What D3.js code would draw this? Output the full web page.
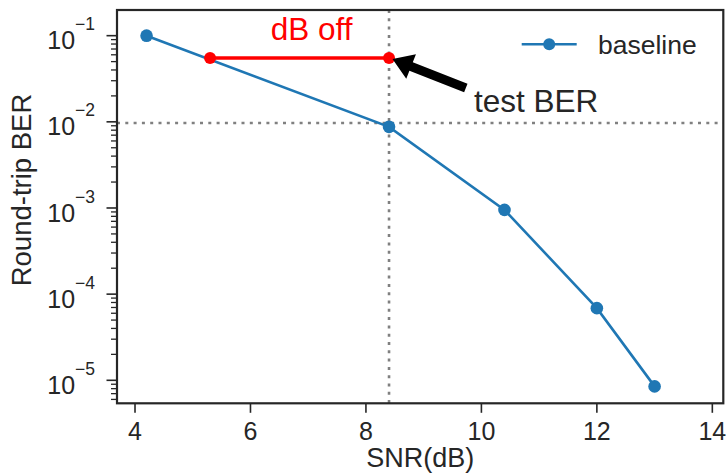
<!DOCTYPE html>
<html><head><meta charset="utf-8">
<script src="https://cdn.jsdelivr.net/npm/d3@7"></script>
<style>
body{margin:0;background:#fff;}
text{font-family:"Liberation Sans",Arial,sans-serif;}
</style></head>
<body><svg id="c" width="728" height="474"></svg>
<script>
// data
const snr = [4.2, 8.4, 10.4, 12.0, 13.0];
const ber = [0.1, 0.00875, 0.00095, 0.0000688, 0.0000085];
const offSnr = [5.3, 8.4];
const offBer = [0.055, 0.055];
const refSnr = 8.4;
const refBer = 0.0097;
const xTicks = [4, 6, 8, 10, 12, 14];
const yExps = [-1, -2, -3, -4, -5];
const arrowTail = [9.73, 0.0247];
const arrowHead = [8.46, 0.0535];
const labelOff = {x: 7.06, y: 0.089, text: "dB off"};
const labelTest = {x: 9.87, y: 0.013, text: "test BER"};
const seriesName = "baseline";

const svg = d3.select("#c");
const L = 117, R = 723.3, T = 10, B = 403.3;
const x = d3.scaleLinear().domain([3.688, 14.19]).range([L, R]);
const y = d3.scaleLog().domain([Math.pow(10, -0.702), Math.pow(10, -5.267)]).range([T, B]);
const ink = "#262626";
const blue = "#1f77b4";

// reference dotted lines
svg.append("line").attr("x1", x(refSnr)).attr("x2", x(refSnr)).attr("y1", T).attr("y2", B)
  .attr("stroke", "#808080").attr("stroke-width", 2.6).attr("stroke-dasharray", "3 5.3");
svg.append("line").attr("x1", L).attr("x2", R).attr("y1", y(refBer)).attr("y2", y(refBer))
  .attr("stroke", "#808080").attr("stroke-width", 2.6).attr("stroke-dasharray", "3 5.3");

// baseline series
const pts = snr.map((s, i) => [s, ber[i]]);
svg.append("path").datum(pts)
  .attr("d", d3.line().x(d => x(d[0])).y(d => y(d[1])))
  .attr("fill", "none").attr("stroke", blue).attr("stroke-width", 2.6);
svg.selectAll("circle.b").data(pts).enter().append("circle")
  .attr("cx", d => x(d[0])).attr("cy", d => y(d[1])).attr("r", 6.3).attr("fill", blue);

// red dB-off line
const offPts = offSnr.map((s, i) => [s, offBer[i]]);
svg.append("path").datum(offPts)
  .attr("d", d3.line().x(d => x(d[0])).y(d => y(d[1])))
  .attr("fill", "none").attr("stroke", "red").attr("stroke-width", 3.6);
svg.selectAll("circle.r").data(offPts).enter().append("circle")
  .attr("cx", d => x(d[0])).attr("cy", d => y(d[1])).attr("r", 6).attr("fill", "red");

// arrow
(function(){
  const tx = x(arrowTail[0]), ty = y(arrowTail[1]);
  const hx = x(arrowHead[0]), hy = y(arrowHead[1]);
  const dx = hx - tx, dy = hy - ty, len = Math.hypot(dx, dy);
  const ux = dx/len, uy = dy/len, px = -uy, py = ux;
  const sw = 4.6, hw = 13.2, hl = 20;
  const bx = hx - ux*hl, by = hy - uy*hl;
  const p = [
    [tx + px*sw, ty + py*sw], [bx + px*sw, by + py*sw], [bx + px*hw, by + py*hw],
    [hx, hy], [bx - px*hw, by - py*hw], [bx - px*sw, by - py*sw], [tx - px*sw, ty - py*sw]
  ];
  svg.append("path").attr("d", "M" + p.map(q => q.join(",")).join("L") + "Z").attr("fill", "black");
})();

// annotations
svg.append("text").attr("x", x(labelOff.x)).attr("y", y(labelOff.y)).attr("text-anchor", "middle")
  .attr("font-size", 31.5).attr("fill", "red").text(labelOff.text);
svg.append("text").attr("x", x(labelTest.x)).attr("y", y(labelTest.y))
  .attr("font-size", 31.5).attr("fill", ink).text(labelTest.text);

// spines
svg.append("rect").attr("x", L).attr("y", T).attr("width", R - L).attr("height", B - T)
  .attr("fill", "none").attr("stroke", ink).attr("stroke-width", 2.2);

// x ticks
xTicks.forEach(t => {
  svg.append("line").attr("x1", x(t)).attr("x2", x(t)).attr("y1", B).attr("y2", B + 9.5)
    .attr("stroke", ink).attr("stroke-width", 1.6);
  svg.append("text").attr("x", x(t)).attr("y", 440).attr("text-anchor", "middle")
    .attr("font-size", 25).attr("fill", ink).text(t);
});

// y ticks
const [dTop, dBot] = y.domain();
for (let k = -6; k <= 0; k++) {
  for (let m = 2; m <= 9; m++) {
    const v = m * Math.pow(10, k);
    if (v <= dTop && v >= dBot) {
      svg.append("line").attr("x1", L - 6).attr("x2", L).attr("y1", y(v)).attr("y2", y(v))
        .attr("stroke", ink).attr("stroke-width", 1.3);
    }
  }
}
yExps.forEach(e => {
  const v = Math.pow(10, e);
  svg.append("line").attr("x1", L - 10.5).attr("x2", L).attr("y1", y(v)).attr("y2", y(v))
    .attr("stroke", ink).attr("stroke-width", 1.6);
  const t = svg.append("text").attr("x", 95).attr("y", y(v) + 13.6).attr("text-anchor", "end")
    .attr("font-size", 25).attr("fill", ink);
  t.append("tspan").text("10");
  t.append("tspan").attr("font-size", 17.5).attr("dy", -19).text("\u2212" + Math.abs(e));
});

// axis labels
svg.append("text").attr("x", (L + R) / 2).attr("y", 467).attr("text-anchor", "middle")
  .attr("font-size", 27).attr("fill", ink).text("SNR(dB)");
svg.append("text").attr("transform", "translate(31,190) rotate(-90)").attr("text-anchor", "middle")
  .attr("font-size", 27.5).attr("fill", ink).text("Round-trip BER");

// legend
svg.append("line").attr("x1", 521.7).attr("x2", 576.7).attr("y1", 44.3).attr("y2", 44.3)
  .attr("stroke", blue).attr("stroke-width", 2.6);
svg.append("circle").attr("cx", 549.2).attr("cy", 44.3).attr("r", 6).attr("fill", blue);
svg.append("text").attr("x", 598).attr("y", 53.5).attr("font-size", 26.5).attr("fill", ink).text(seriesName);
</script></body></html>
